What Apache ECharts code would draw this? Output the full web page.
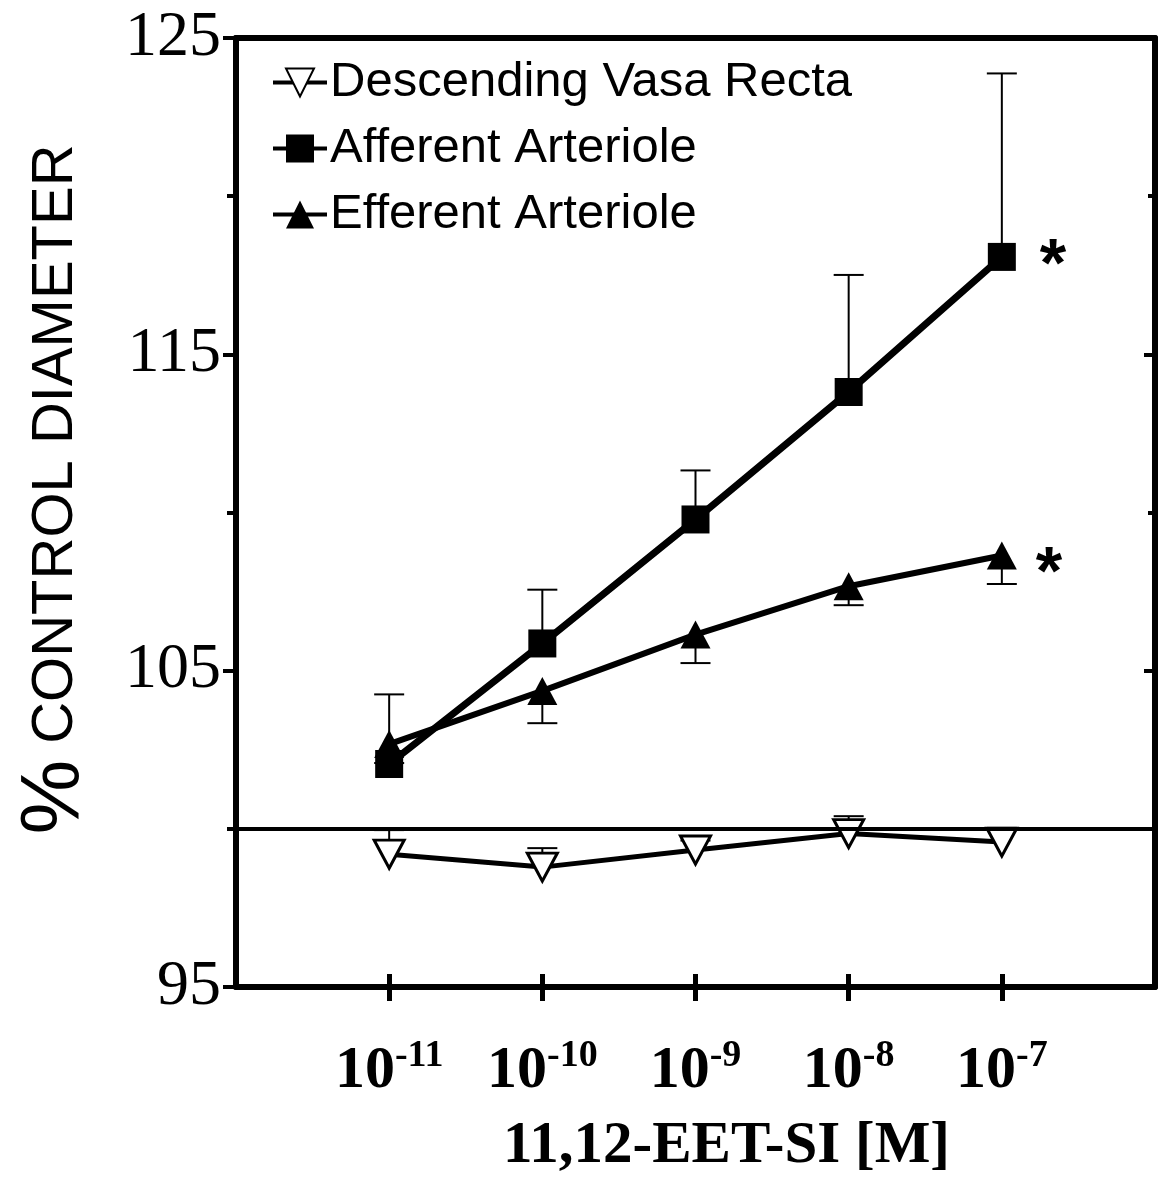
<!DOCTYPE html>
<html><head><meta charset="utf-8">
<script src="https://cdn.jsdelivr.net/npm/echarts@6/dist/echarts.min.js"></script>
<style>html,body{margin:0;padding:0;background:#fff}#c{width:1162px;height:1178px}</style>
</head><body><div id="c"></div>
<script>
// log10 of 11,12-EET-SI concentration [M]
const logConc = [-11, -10, -9, -8, -7];
const tickExponents = ['-11', '-10', '-9', '-8', '-7'];
const seriesNames = ['Descending Vasa Recta', 'Afferent Arteriole', 'Efferent Arteriole'];
// % control diameter (mean) and SE (signed: direction drawn)
const dvrMean = [99.2, 98.79, 99.33, 99.85, 99.58];
const dvrErr  = [0.76, 0.6, 0.3, 0.55, 0.45];
const affMean = [102.05, 105.86, 109.78, 113.81, 118.08];
const affErr  = [2.2, 1.7, 1.55, 3.7, 5.8];
const effMean = [102.68, 104.36, 106.14, 107.67, 108.64];
const effErr  = [-0.6, -1.02, -0.9, -0.6, -0.9];
// significance marks
const affSig = ['', '', '', '', '*'];
const effSig = ['', '', '', '', '*'];
const controlLevel = 100;

const chart = echarts.init(document.getElementById('c'), null, {renderer: 'canvas'});

function pts(mean, sig, dist, off) {
  return logConc.map((x, i) => {
    const item = {value: [x, mean[i]]};
    if (sig && sig[i]) {
      item.label = {show: true, position: 'right', distance: dist, offset: off, formatter: sig[i],
        fontFamily: 'Liberation Sans, Arial', fontWeight: 'bold', fontSize: 68, color: '#000'};
    }
    return item;
  });
}
function errData(mean, err) { return logConc.map((x, i) => [x, mean[i], err[i]]); }
function errRender(params, api) {
  const x = api.value(0), y = api.value(1), e = api.value(2);
  const p0 = api.coord([x, y]);
  const p1 = api.coord([x, y + e]);
  return {type: 'group', children: [
    {type: 'line', shape: {x1: p0[0], y1: p0[1], x2: p1[0], y2: p1[1]}, style: {stroke: '#000', lineWidth: 2}},
    {type: 'line', shape: {x1: p1[0] - 15, y1: p1[1], x2: p1[0] + 15, y2: p1[1]}, style: {stroke: '#000', lineWidth: 2}}
  ]};
}

const option = {
  backgroundColor: '#fff',
  animation: false,
  grid: {left: 236, right: 7, top: 38, bottom: 191, outerBoundsMode: 'none', containLabel: false},
  legend: {
    data: seriesNames,
    orient: 'vertical', left: 266, top: 53,
    itemWidth: 54, itemHeight: 35, itemGap: 17,
    textStyle: {fontFamily: 'Liberation Sans, Arial', fontSize: 49, color: '#000', padding: [0, 0, 0, -2]},
    lineStyle: {width: 4}
  },
  xAxis: [
    {
      type: 'value', min: -12, max: -6, interval: 1, position: 'bottom',
      axisLine: {show: true, lineStyle: {color: '#000', width: 6}},
      axisTick: {show: true, length: 14, lineStyle: {color: '#000', width: 5}, customValues: logConc},
      splitLine: {show: false},
      axisLabel: {
        customValues: logConc, margin: 50, color: '#000',
        formatter: v => { const i = logConc.indexOf(v); return i < 0 ? '' : '{b|10}{s|' + tickExponents[i] + '}'; },
        rich: {
          b: {fontFamily: 'Liberation Serif, Times New Roman', fontWeight: 'bold', fontSize: 60, color: '#000'},
          s: {fontFamily: 'Liberation Serif, Times New Roman', fontWeight: 'bold', fontSize: 38, color: '#000', padding: [0, 0, 30, 0]}
        }
      },
      name: '11,12-EET-SI [M]', nameLocation: 'middle', nameGap: 130,
      nameTextStyle: {fontFamily: 'Liberation Serif, Times New Roman', fontWeight: 'bold', fontSize: 59, color: '#000', padding: [0, 0, 0, 62]}
    },
    {
      type: 'value', min: -12, max: -6, interval: 1, position: 'bottom',
      axisLine: {show: false},
      axisTick: {show: true, inside: true, length: 13, lineStyle: {color: '#000', width: 5}, customValues: logConc},
      axisLabel: {show: false}, splitLine: {show: false}
    },
    {
      type: 'value', min: -12, max: -6, position: 'top',
      axisLine: {show: true, lineStyle: {color: '#000', width: 6}},
      axisTick: {show: false}, axisLabel: {show: false}, splitLine: {show: false}
    }
  ],
  yAxis: [
    {
      type: 'value', min: 95, max: 125, interval: 10, position: 'left',
      axisLine: {show: true, lineStyle: {color: '#000', width: 6}},
      axisTick: {show: true, length: 13, lineStyle: {color: '#000', width: 4}},
      minorTick: {show: true, splitNumber: 2, length: 9, lineStyle: {color: '#000', width: 4}},
      splitLine: {show: false},
      axisLabel: {margin: 15, color: '#000', fontFamily: 'Liberation Serif, Times New Roman', fontSize: 64},
      name: '{p|%}{t| CONTROL DIAMETER}', nameLocation: 'middle', nameGap: 138, nameRotate: 90,
      nameTextStyle: {
        padding: [0, 0, 0, 46],
        rich: {
          p: {fontFamily: 'Liberation Sans, Arial', fontSize: 84, color: '#000'},
          t: {fontFamily: 'Liberation Sans, Arial', fontSize: 58, color: '#000'}
        }
      }
    },
    {
      type: 'value', min: 95, max: 125, interval: 10, position: 'right',
      axisLine: {show: true, lineStyle: {color: '#000', width: 6}},
      axisTick: {show: true, inside: true, length: 11, lineStyle: {color: '#000', width: 4}},
      minorTick: {show: true, splitNumber: 2, length: 7, lineStyle: {color: '#000', width: 4}},
      axisLabel: {show: false}, splitLine: {show: false}
    }
  ],
  series: [
    {type: 'custom', name: 'dvrErr', xAxisIndex: 0, yAxisIndex: 0, z: 1, renderItem: errRender, data: errData(dvrMean, dvrErr), encode: {x: 0, y: 1}, silent: true},
    {type: 'custom', name: 'affErr', xAxisIndex: 0, yAxisIndex: 0, z: 1, renderItem: errRender, data: errData(affMean, affErr), encode: {x: 0, y: 1}, silent: true},
    {type: 'custom', name: 'effErr', xAxisIndex: 0, yAxisIndex: 0, z: 1, renderItem: errRender, data: errData(effMean, effErr), encode: {x: 0, y: 1}, silent: true},
    {
      type: 'line', name: seriesNames[0], xAxisIndex: 0, yAxisIndex: 0, z: 3,
      data: pts(dvrMean), symbol: 'triangle', symbolRotate: 180, symbolSize: [30, 28],
      lineStyle: {color: '#000', width: 5}, itemStyle: {color: '#fff', borderColor: '#000', borderWidth: 3},
      markLine: {silent: true, symbol: 'none', label: {show: false}, lineStyle: {color: '#000', width: 4, type: 'solid'},
        data: [{yAxis: controlLevel}]}
    },
    {
      type: 'line', name: seriesNames[1], xAxisIndex: 0, yAxisIndex: 0, z: 3,
      data: pts(affMean, affSig, 24, [0, 10]), symbol: 'rect', symbolSize: 28,
      lineStyle: {color: '#000', width: 7}, itemStyle: {color: '#000'}
    },
    {
      type: 'line', name: seriesNames[2], xAxisIndex: 0, yAxisIndex: 0, z: 4,
      data: pts(effMean, effSig, 19, [0, 20]), symbol: 'triangle', symbolSize: [30, 28],
      lineStyle: {color: '#000', width: 6}, itemStyle: {color: '#000'}
    }
  ]
};
chart.setOption(option);
</script>
</body></html>
